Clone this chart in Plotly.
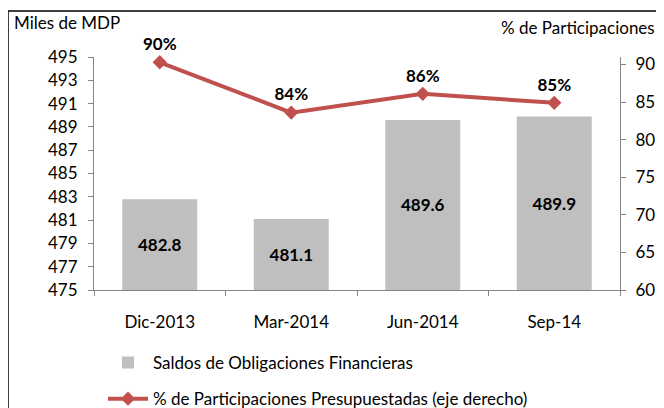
import plotly.graph_objects as go

periodos = ["Dic-2013", "Mar-2014", "Jun-2014", "Sep-14"]
saldos = [482.8, 481.1, 489.6, 489.9]
participaciones = [90.3, 83.6, 86.1, 84.9]
ticks_izq = list(range(475, 496, 2))
ticks_der = list(range(60, 91, 5))

FONT = "Lato, Calibri, Carlito, sans-serif"
GRIS_EJE = "#868686"
BASE = 475  # left axis starts at 475

# the page body has an 8px margin, so the figure is 8px smaller than the window
# helpers take positions in window pixels; plot area is x 94..620, y 57..290
def px_x(px):
    return (px - 94) / 526


def px_y(py):
    return (290 - py) / 233


fig = go.Figure()

fig.add_trace(go.Bar(
    x=periodos,
    y=[v - BASE for v in saldos],
    base=BASE,
    customdata=saldos,
    hovertemplate="%{x}: %{customdata:.1f}<extra></extra>",
    name="Saldos de Obligaciones Financieras",
    legendgroup="saldos",
    marker=dict(color="#BFBFBF", line=dict(width=0)),
    text=[f"{v:.1f}" for v in saldos],
    textposition="inside",
    insidetextanchor="middle",
    textfont=dict(family=FONT, size=17, color="#000000", weight="bold"),
))

fig.add_trace(go.Scatter(
    x=periodos,
    y=participaciones,
    yaxis="y2",
    name="% de Participaciones Presupuestadas (eje derecho)",
    legendgroup="part",
    mode="lines+markers+text",
    line=dict(color="#C0504D", width=4),
    marker=dict(symbol="diamond", size=11, color="#C0504D"),
    text=[f"{v:.0f}%" for v in participaciones],
    textposition="top center",
    textfont=dict(family=FONT, size=17, color="#000000", weight="bold"),
    cliponaxis=False,
))

fig.update_layout(
    width=656,
    height=400,
    margin=dict(l=86, r=44, t=49, b=118, autoexpand=False),
    paper_bgcolor="white",
    plot_bgcolor="white",
    font=dict(family=FONT, size=17, color="#000000"),
    bargap=0.43,
    showlegend=True,
    legend=dict(
        x=px_x(103), y=px_y(345), xanchor="left", yanchor="top",
        orientation="v",
        font=dict(family=FONT, size=17),
        itemwidth=40,
        tracegroupgap=11,
        bgcolor="rgba(0,0,0,0)",
    ),
    xaxis=dict(
        type="category",
        showline=True, linecolor=GRIS_EJE, linewidth=1,
        ticks="outside", tickson="boundaries", ticklen=5, tickcolor=GRIS_EJE,
        showgrid=False,
        ticklabelstandoff=17,
        range=[-0.5, 3.5],
    ),
    yaxis=dict(
        range=[475, 495],
        tickvals=ticks_izq,
        showline=True, linecolor=GRIS_EJE, linewidth=1,
        ticks="outside", ticklen=5, tickcolor=GRIS_EJE,
        showgrid=False, zeroline=False,
        ticklabelstandoff=7,
    ),
    yaxis2=dict(
        range=[60, 91],
        tickvals=ticks_der,
        overlaying="y",
        side="right",
        showline=True, linecolor=GRIS_EJE, linewidth=1,
        ticks="outside", ticklen=5, tickcolor=GRIS_EJE,
        showgrid=False, zeroline=False,
        ticklabelstandoff=6,
    ),
    shapes=[dict(
        type="rect", xref="paper", yref="paper",
        x0=px_x(8), x1=px_x(720), y0=px_y(11), y1=px_y(460),
        line=dict(color="#000000", width=1.5),
        layer="above",
    )],
    annotations=[
        dict(text="Miles de MDP", xref="paper", yref="paper",
             x=px_x(12), y=px_y(22), xanchor="left", yanchor="middle",
             showarrow=False, font=dict(family=FONT, size=17)),
        dict(text="% de Participaciones", xref="paper", yref="paper",
             x=px_x(657), y=px_y(28), xanchor="right", yanchor="middle",
             showarrow=False, font=dict(family=FONT, size=17)),
        dict(text="(Miles de millones de pesos y porcentajes)", xref="paper", yref="paper",
             x=px_x(335), y=px_y(11), xanchor="center", yanchor="bottom",
             showarrow=False, font=dict(family=FONT, size=22)),
    ],
)

fig.write_html("out.html")
